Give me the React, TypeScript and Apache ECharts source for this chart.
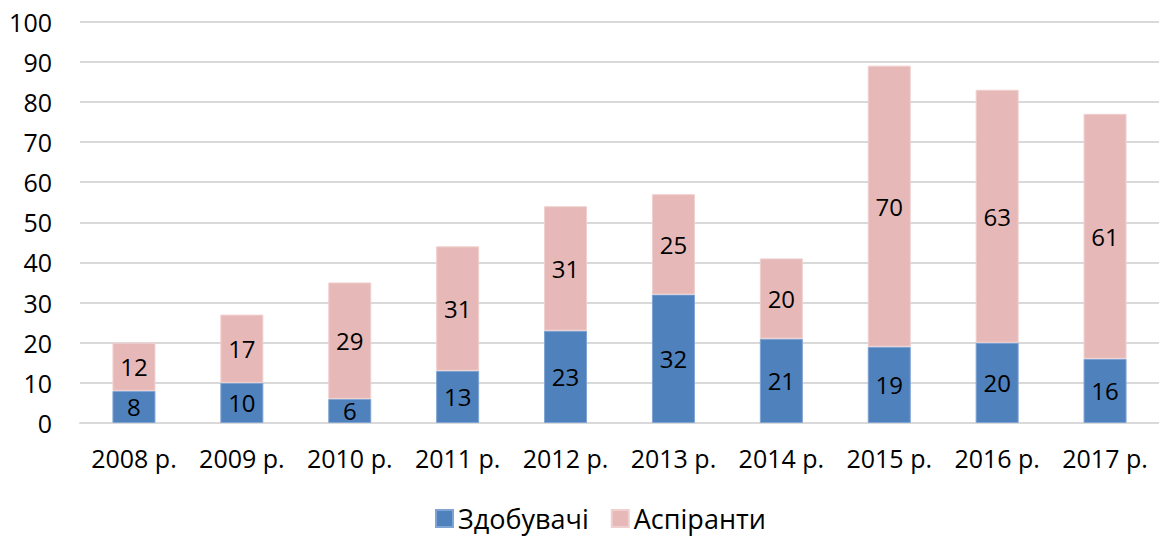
import React, { useEffect, useRef } from "react";
import * as echarts from "echarts";

const categories = ["2008 р.", "2009 р.", "2010 р.", "2011 р.", "2012 р.", "2013 р.", "2014 р.", "2015 р.", "2016 р.", "2017 р."];
const zdobuvachi = [8, 10, 6, 13, 23, 32, 21, 19, 20, 16];
const aspiranty = [12, 17, 29, 31, 31, 25, 20, 70, 63, 61];
const seriesNames = ["Здобувачі", "Аспіранти"];

const FONT = "Open Sans";

export default function App() {
  const ref = useRef<HTMLDivElement>(null);
  useEffect(() => {
    if (!ref.current) return;
    const chart = echarts.init(ref.current, undefined, { renderer: "svg" });
    const label = {
      show: true,
      position: "inside" as const,
      color: "#000",
      fontFamily: FONT,
      fontSize: 24,
    };
    chart.setOption({
      animation: false,
      textStyle: { fontFamily: FONT },
      grid: { left: 80, right: 0, top: 21.5, bottom: 114, containLabel: false },
      legend: {
        bottom: 0,
        left: 430,
        itemWidth: 17,
        itemHeight: 17,
        itemGap: 22,
        icon: "rect",
        textStyle: { fontFamily: FONT, fontSize: 27, color: "#000" },
        data: seriesNames,
      },
      xAxis: {
        type: "category",
        data: categories,
        axisLine: { show: true, lineStyle: { color: "#d9d9d9", width: 2 } },
        axisTick: { show: false },
        axisLabel: { color: "#000", fontFamily: FONT, fontSize: 25, margin: 22, interval: 0 },
      },
      yAxis: {
        type: "value",
        min: 0,
        max: 100,
        interval: 10,
        axisLine: { show: false },
        axisTick: { show: false },
        splitLine: { lineStyle: { color: "#d9d9d9", width: 2 } },
        axisLabel: { color: "#000", fontFamily: FONT, fontSize: 25, margin: 28 },
      },
      series: [
        {
          name: seriesNames[0],
          type: "bar",
          stack: "total",
          data: zdobuvachi,
          barWidth: 43,
          itemStyle: { color: "#4f81bd", borderColor: "#7fa3d3", borderWidth: 1 },
          label,
        },
        {
          name: seriesNames[1],
          type: "bar",
          stack: "total",
          data: aspiranty,
          barWidth: 43,
          itemStyle: { color: "#e6b9b8", borderColor: "#f0d0cf", borderWidth: 1 },
          label,
        },
      ],
    });
    return () => chart.dispose();
  }, []);
  return (
    <div
      ref={ref}
      style={{ position: "absolute", left: 0, top: 0, width: 1159, height: 537, background: "#fff" }}
    />
  );
}
